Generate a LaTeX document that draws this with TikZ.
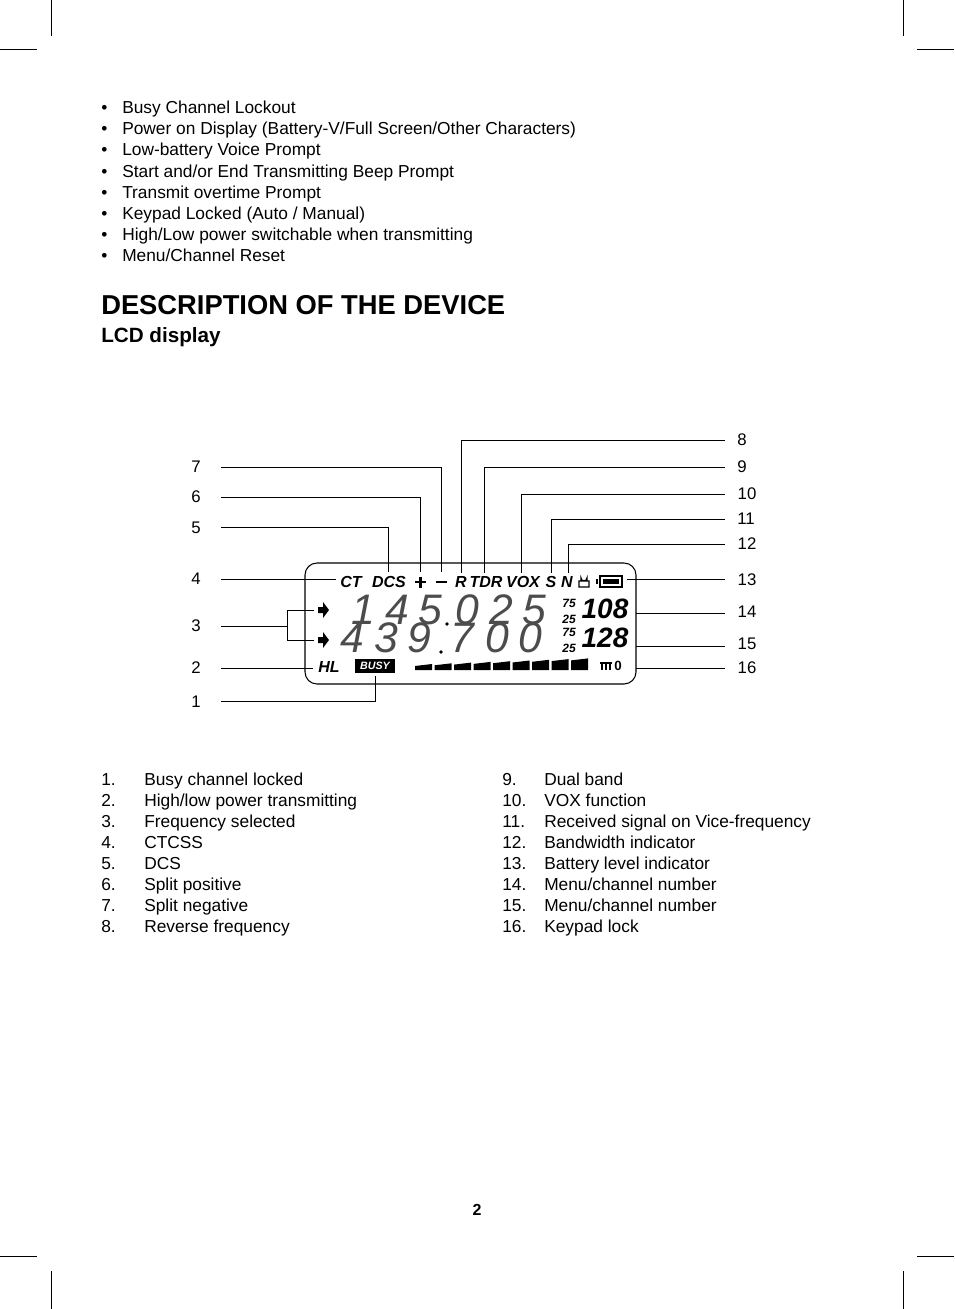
\documentclass[tikz,border=0pt]{standalone}
\usepackage{fontspec}
\setmainfont{Liberation Sans}
\usepackage{tikz}
\usetikzlibrary{positioning}

\begin{document}
\begin{tikzpicture}[x=0.75pt,y=-0.75pt, thin,
    txt/.style={anchor=base west, inner sep=0, font=\fontsize{13}{15}\selectfont},
    num/.style={inner sep=0, font=\fontsize{12.6}{14}\selectfont},
    icon/.style={inner sep=0, font=\fontsize{12}{13}\selectfont\bfseries\itshape},
    seg/.style={inner sep=0, text=black!70, font=\fontsize{32}{33}\selectfont\itshape},
    lead/.style={line width=0.5pt}]
    \useasboundingbox (0,0) rectangle (954,1309);
    % crop marks
    \draw[lead] (51,0) -- (51,36) (903,0) -- (903,36) (0,49) -- (37,49) (917,49) -- (954,49);
    \draw[lead] (51,1271) -- (51,1309) (903,1271) -- (903,1309) (0,1256) -- (37,1256) (917,1256) -- (954,1256);
    % features
    \foreach \t [count=\i] in {Busy Channel Lockout,
        Power on Display (Battery-V/Full Screen/Other Characters),
        Low-battery Voice Prompt, Start and/or End Transmitting Beep Prompt,
        Transmit overtime Prompt, Keypad Locked (Auto / Manual),
        High/Low power switchable when transmitting, Menu/Channel Reset}{
        \node[txt] (b\i) at (101,93+21*\i) {•};
        \node[txt] (f\i) at (122,93+21*\i) {\t};
    }
    \node[txt, font=\fontsize{20.5}{22}\selectfont\bfseries] (head) at (101,314) {DESCRIPTION OF THE DEVICE};
    \node[txt, font=\fontsize{15.5}{17}\selectfont\bfseries] (sub) at (101,342) {LCD display};
    % LCD
    \draw[line width=0.8pt, rounded corners=9] (305,563) rectangle (636,684);
    \node[icon] (ct) at (351,582) {CT};
    \node[icon] (dcs) at (389,582) {DCS};
    \draw[line width=2pt] (415,582) -- (426,582) (420.5,576.5) -- (420.5,587.5);
    \draw[line width=2pt] (436,582) -- (447,582);
    \node[icon] (r) at (461,582) {R};
    \node[icon] (tdr) at (486,582) {TDR};
    \node[icon] (vox) at (523,582) {VOX};
    \node[icon] (s) at (551,582) {S};
    \node[icon] (n) at (567,582) {N};
    \draw[line width=1pt] (579,587) rectangle (589,581) (581,581) -- (581,578) arc (180:0:3) -- (587,581);
    \draw[line width=1pt] (600,576) rectangle (622,587) (597,579) -- (597,584);
    \fill (603,579) rectangle (619,584);
    \coordinate (batt) at (627,579);
    % arrows
    \foreach \y/\nm in {610/ar1, 640/ar2}{
        \fill (318,\y-3) -- (323,\y-3) -- (323,\y-8) -- (329,\y) -- (323,\y+8) -- (323,\y+3) -- (318,\y+3) -- cycle;
        \coordinate (\nm) at (314,\y);
    }
    % digits
    \foreach \d/\x in {1/363,4/397,5/430,0/467,2/501,5/534}{\node[seg] at (\x,610) {\d};}
    \foreach \d/\x in {4/352,3/386,9/419,7/462,0/497,0/530}{\node[seg] at (\x,638) {\d};}
    \fill (447,624) circle (1.8) (441,652) circle (1.8);
    \foreach \t/\y in {75/603,25/619,75/632,25/648}{\node[icon, font=\fontsize{9}{9}\selectfont\bfseries\itshape] at (569,\y) {\t};}
    \node[seg, text=black, font=\fontsize{21}{23}\selectfont\bfseries\itshape] (ch1) at (605,609) {108};
    \node[seg, text=black, font=\fontsize{21}{23}\selectfont\bfseries\itshape] (ch2) at (605,638) {128};
    \node[icon] (hl) at (329,667) {HL};
    \node[fill=black, text=white, inner sep=0pt, minimum width=30pt, minimum height=10pt,
        font=\fontsize{8}{8}\selectfont\bfseries\itshape] (busy) at (375,666) {BUSY};
    \foreach \i in {0,...,8}{
        \fill (415+19.5*\i,670) -- (432+19.5*\i,670) -- (432+19.5*\i,664-0.7*\i) -- (415+19.5*\i,666-0.7*\i) -- cycle;
    }
    \draw[line width=1pt] (600,663) -- (612,663) (602,663) -- (602,670) (606,663) -- (606,670) (610,663) -- (610,670);
    \node[icon, font=\fontsize{10}{11}\selectfont\bfseries] (key) at (618,666) {0};
    % left leaders
    \node[num] (l7) at (196,467) {7};
    \node[num] (l6) at (196,497) {6};
    \node[num] (l5) at (196,528) {5};
    \node[num] (l4) at (196,579) {4};
    \node[num] (l3) at (196,626) {3};
    \node[num] (l2) at (196,668) {2};
    \node[num] (l1) at (196,702) {1};
    \draw[lead] (221,467) -| (441,572);
    \draw[lead] (221,497) -| (420,572);
    \draw[lead] (221,527) -| (388,572);
    \draw[lead] (221,579) -- (336,579);
    \draw[lead] (221,626) -- (287,626) (ar1) -| (287,640) -- (ar2);
    \draw[lead] (221,668) -- (313,668);
    \draw[lead] (221,701) -| ([yshift=-2pt]busy.south);
    % right leaders
    \node[num] (r8) at (742,440) {8};
    \node[num] (r9) at (742,467) {9};
    \node[num] (r10) at (747,494) {10};
    \node[num] (r11) at (746,519) {11};
    \node[num] (r12) at (747,544) {12};
    \node[num] (r13) at (747,580) {13};
    \node[num] (r14) at (747,612) {14};
    \node[num] (r15) at (747,644) {15};
    \node[num] (r16) at (747,668) {16};
    \draw[lead] (725,440) -| (461,573);
    \draw[lead] (725,467) -| (484,573);
    \draw[lead] (725,494) -| (521,573);
    \draw[lead] (725,519) -| (551,573);
    \draw[lead] (725,544) -| (568,573);
    \draw[lead] (725,579) -- (batt);
    \draw[lead] (725,613) -- (636,613);
    \draw[lead] (725,646) -- (636,646);
    \draw[lead] (725,668) -- (636,668);
    % legend
    \foreach \t [count=\i] in {Busy channel locked, High/low power transmitting,
        Frequency selected, CTCSS, DCS, Split positive, Split negative, Reverse frequency}{
        \node[txt] (n\i) at (101,764+21*\i) {\i.};
        \node[txt] (d\i) at (144,764+21*\i) {\t};
    }
    \foreach \t [count=\i from 9] in {Dual band, VOX function, Received signal on Vice-frequency,
        Bandwidth indicator, Battery level indicator, Menu/channel number,
        Menu/channel number, Keypad lock}{
        \node[txt] (n\i) at (502,596+21*\i) {\i.};
        \node[txt] (d\i) at (544,596+21*\i) {\t};
    }
    \node[num, font=\fontsize{12}{14}\selectfont\bfseries] (page) at (477,1210) {2};
\end{tikzpicture}
\end{document}
